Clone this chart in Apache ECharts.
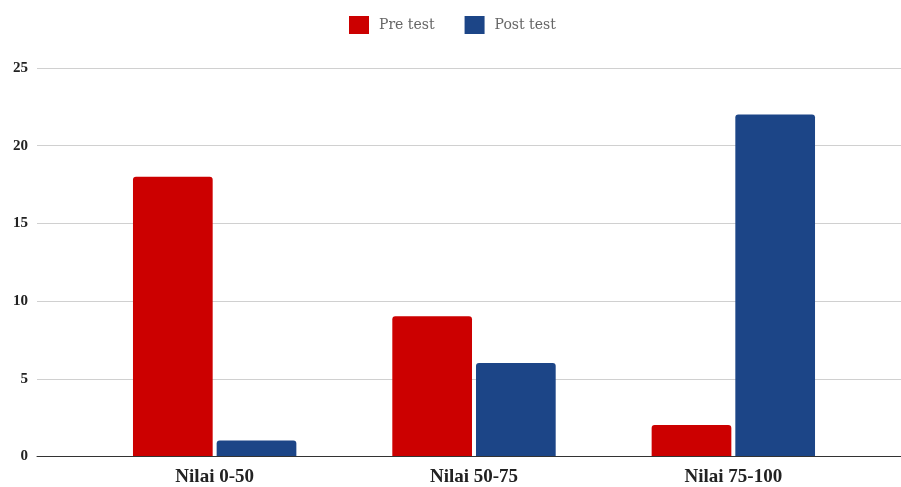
<!DOCTYPE html>
<html>
<head>
<meta charset="utf-8">
<script src="https://cdn.jsdelivr.net/npm/echarts@6/dist/echarts.min.js"></script>
<style>
html,body{margin:0;padding:0;background:#fff;}
#c{width:901px;height:487px;}
</style>
</head>
<body>
<div id="c"></div>
<script>
var categories = ['Nilai 0-50', 'Nilai 50-75', 'Nilai 75-100'];
var preTest = [18, 9, 2];
var postTest = [1, 6, 22];
var seriesNames = ['Pre test', 'Post test'];

var chart = echarts.init(document.getElementById('c'), null, {renderer: 'canvas'});
var font = '"Liberation Serif", "DejaVu Serif", serif';
chart.setOption({
  animation: false,
  backgroundColor: '#ffffff',
  legend: {
    left: 349,
    top: 16,
    padding: 0,
    icon: 'rect',
    itemWidth: 20,
    itemHeight: 18,
    itemGap: 30,
    textStyle: {fontFamily: '"DejaVu Serif", serif', fontSize: 14, color: '#666', padding: [0, 0, 0, 5]},
    data: seriesNames
  },
  grid: [
    {left: 37, right: 0, top: 68, bottom: 30.5},
    {left: 85, right: 38, top: 68, bottom: 30.5}
  ],
  xAxis: [
    {gridIndex: 0, type: 'category', data: categories,
     axisLine: {show: true, lineStyle: {color: '#333', width: 1}},
     axisTick: {show: false}, axisLabel: {show: false}, splitLine: {show: false}},
    {gridIndex: 1, type: 'category', data: categories,
     axisLine: {show: false}, axisTick: {show: false},
     axisLabel: {fontFamily: font, fontWeight: 'bold', fontSize: 19, color: '#222', margin: 12}}
  ],
  yAxis: [
    {gridIndex: 0, type: 'value', min: 0, max: 25, interval: 5,
     axisLine: {show: false}, axisTick: {show: false},
     axisLabel: {fontFamily: font, fontWeight: 'bold', fontSize: 15, color: '#222', margin: 9},
     splitLine: {lineStyle: {color: '#d0d0d0', width: 1}}},
    {gridIndex: 1, type: 'value', min: 0, max: 25, interval: 5, show: false,
     splitLine: {show: false}}
  ],
  series: [
    {name: seriesNames[0], type: 'bar', xAxisIndex: 1, yAxisIndex: 1, data: preTest,
     barCategoryGap: '37%', barGap: '5%',
     itemStyle: {color: '#cc0000', borderRadius: [3, 3, 0, 0]}},
    {name: seriesNames[1], type: 'bar', xAxisIndex: 1, yAxisIndex: 1, data: postTest,
     barCategoryGap: '37%', barGap: '5%',
     itemStyle: {color: '#1c4587', borderRadius: [3, 3, 0, 0]}}
  ]
});
</script>
</body>
</html>
